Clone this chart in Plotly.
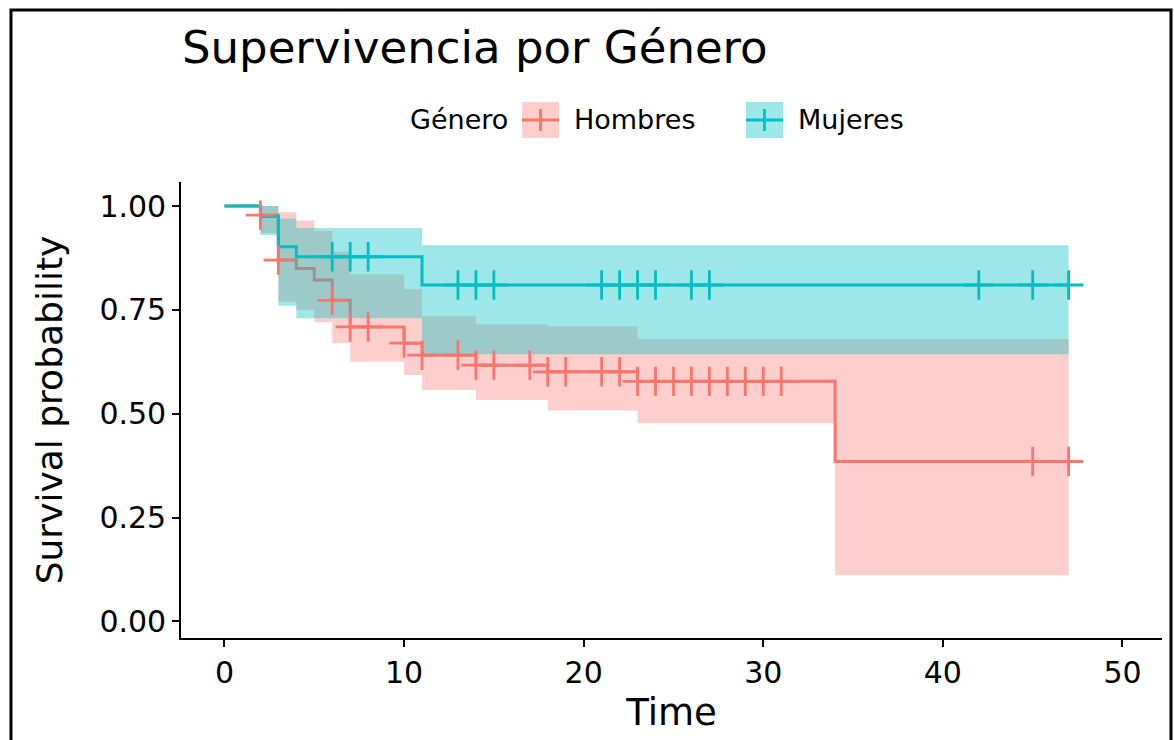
import numpy as np
import plotly.graph_objects as go

# ---------------- data ----------------
T_END = 47

hom_time = [0, 2, 3, 4, 5, 6, 7, 10, 11, 14, 18, 23, 34]
hom_surv = [1.0, 0.978, 0.870, 0.850, 0.822, 0.773, 0.709, 0.670, 0.641, 0.617, 0.601, 0.578, 0.385]
hom_upper = [1.0, 1.0, 0.985, 0.965, 0.94, 0.89, 0.835, 0.80, 0.735, 0.715, 0.71, 0.68, 0.68]
hom_lower = [1.0, 0.935, 0.77, 0.75, 0.72, 0.67, 0.625, 0.593, 0.557, 0.533, 0.508, 0.477, 0.111]
hom_censor = [2, 3, 6, 7, 8, 10, 11, 13, 14, 15, 17, 18, 19, 21, 22, 23, 24, 25, 26,
              27, 28, 29, 30, 31, 45, 47]

muj_time = [0, 2, 3, 4, 11]
muj_surv = [1.0, 0.975, 0.902, 0.878, 0.810]
muj_upper = [1.0, 1.0, 0.97, 0.947, 0.906]
muj_lower = [1.0, 0.93, 0.76, 0.73, 0.643]
muj_censor = [6, 7, 8, 13, 14, 15, 21, 22, 23, 24, 26, 27, 42, 45, 47]

x_ticks = [0, 10, 20, 30, 40, 50]
y_ticks = [0, 0.25, 0.5, 0.75, 1.0]

groups = ["Hombres", "Mujeres"]
legend_title = "Género"

# ---------------- styling / layout ----------------
W, H = 1174, 740
PL, PR, PT, PB = 181, 1162, 182, 638
XR = [-2.42, 52.2]
YR = [-0.04, 1.058]
FONT = "DejaVu Sans"
RED = "#F8766D"
TEAL = "#00BFC4"
RED_FILL = "rgba(248,118,109,0.35)"
TEAL_FILL = "rgba(0,191,196,0.38)"


def px_x(x):
    return (x - PL) / (PR - PL)


def px_y(y):
    return (PB - y) / (PB - PT)


def step_values(times, surv, at):
    idx = np.searchsorted(np.asarray(times), np.asarray(at), side="right") - 1
    return [surv[i] for i in idx]


fig = go.Figure()


def add_band(times, lo, up, fill):
    xs = list(times) + [T_END]
    fig.add_trace(go.Scatter(x=xs, y=list(lo) + [lo[-1]], mode="lines",
                             line=dict(width=0, shape="hv", color=fill),
                             showlegend=False, hoverinfo="skip"))
    fig.add_trace(go.Scatter(x=xs, y=list(up) + [up[-1]], mode="lines",
                             line=dict(width=0, shape="hv", color=fill),
                             fill="tonexty", fillcolor=fill,
                             showlegend=False, hoverinfo="skip"))


def add_line(times, surv, color, name):
    xs = list(times) + [T_END]
    fig.add_trace(go.Scatter(x=xs, y=list(surv) + [surv[-1]], mode="lines",
                             line=dict(width=3, shape="hv", color=color),
                             name=name, showlegend=False))


def add_censor(times, surv, cens, color, name):
    fig.add_trace(go.Scatter(x=cens, y=step_values(times, surv, cens), mode="markers",
                             marker=dict(symbol="cross-thin", size=21, color=color,
                                         line=dict(color=color, width=2.8)),
                             name=name, showlegend=False))


add_band(hom_time, hom_lower, hom_upper, RED_FILL)
add_line(hom_time, hom_surv, RED, groups[0])
add_band(muj_time, muj_lower, muj_upper, TEAL_FILL)
add_line(muj_time, muj_surv, TEAL, groups[1])
add_censor(hom_time, hom_surv, hom_censor, RED, groups[0])
add_censor(muj_time, muj_surv, muj_censor, TEAL, groups[1])

shapes = []
annotations = []

# outer frame
shapes.append(dict(type="rect", xref="paper", yref="paper",
                   x0=px_x(11), x1=px_x(1171), y0=px_y(760), y1=px_y(10),
                   line=dict(color="black", width=3), fillcolor="rgba(0,0,0,0)", layer="above"))

# manual legend (ggplot style keys)
LEG_Y = 120
keys = [(522, RED, RED_FILL, groups[0], 572), (746, TEAL, TEAL_FILL, groups[1], 796)]
annotations.append(dict(text=legend_title, xref="paper", yref="paper",
                        x=px_x(510), y=px_y(LEG_Y), xanchor="right", yanchor="middle",
                        showarrow=False, font=dict(family=FONT, size=27, color="black")))
for kx, col, fcol, label, tx in keys:
    shapes.append(dict(type="rect", xref="paper", yref="paper",
                       x0=px_x(kx), x1=px_x(kx + 37), y0=px_y(138), y1=px_y(102),
                       line=dict(width=0), fillcolor=fcol))
    shapes.append(dict(type="line", xref="paper", yref="paper",
                       x0=px_x(kx), x1=px_x(kx + 37), y0=px_y(LEG_Y), y1=px_y(LEG_Y),
                       line=dict(color=col, width=3)))
    shapes.append(dict(type="line", xref="paper", yref="paper",
                       x0=px_x(kx + 18.5), x1=px_x(kx + 18.5), y0=px_y(LEG_Y + 11), y1=px_y(LEG_Y - 11),
                       line=dict(color=col, width=2.8)))
    annotations.append(dict(text=label, xref="paper", yref="paper",
                            x=px_x(tx), y=px_y(LEG_Y), xanchor="left", yanchor="middle",
                            showarrow=False, font=dict(family=FONT, size=27, color="black")))

fig.update_layout(
    width=W, height=H,
    margin=dict(l=PL, r=W - PR, t=PT, b=H - PB, pad=0),
    paper_bgcolor="white", plot_bgcolor="white",
    font=dict(family=FONT, color="black"),
    title=dict(text="Supervivencia por Género", font=dict(family=FONT, size=45, color="black"),
               xref="paper", x=px_x(182), xanchor="left",
               yref="container", y=1 - 47 / H, yanchor="middle"),
    showlegend=False,
    shapes=shapes,
    annotations=annotations,
    xaxis=dict(range=XR, tickvals=x_ticks, showgrid=False, zeroline=False,
               showline=True, linecolor="black", linewidth=1.6,
               ticks="outside", ticklen=7, tickwidth=1.6, tickcolor="black",
               tickfont=dict(family=FONT, size=30, color="black"),
               title=dict(text="Time", font=dict(family=FONT, size=37, color="black"), standoff=10)),
    yaxis=dict(range=YR, tickvals=y_ticks, tickformat=".2f", showgrid=False, zeroline=False,
               showline=True, linecolor="black", linewidth=1.6,
               ticks="outside", ticklen=7, tickwidth=1.6, tickcolor="black",
               tickfont=dict(family=FONT, size=30, color="black"),
               title=dict(text="Survival probability", font=dict(family=FONT, size=36, color="black"),
                          standoff=26)),
)

fig.write_html("out.html")
